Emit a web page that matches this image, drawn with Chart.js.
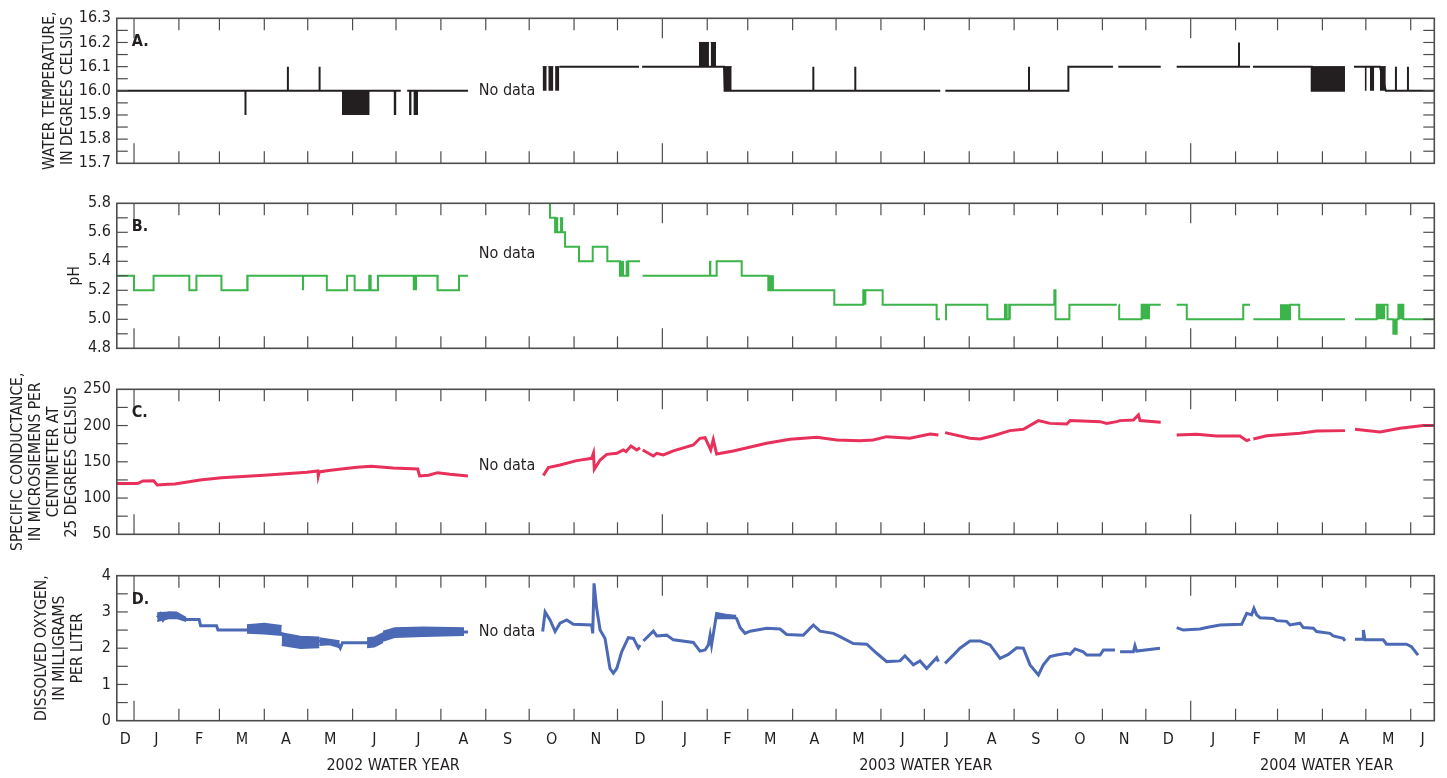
<!DOCTYPE html>
<html>
<head>
<meta charset="utf-8">
<title>Water-quality monitor, 2002-2004 water years</title>
<script src="https://cdn.jsdelivr.net/npm/chart.js@4.4.1/dist/chart.umd.min.js"></script>
<style>
  html, body { margin: 0; padding: 0; background: #fff; }
  #wrap { position: relative; width: 1447px; height: 778px; }
  #wrap canvas { position: absolute; left: 0; top: 0; }
</style>
</head>
<body>
<div id="wrap">
  <canvas id="tempChart" width="1447" height="778"></canvas>
  <canvas id="phChart" width="1447" height="778"></canvas>
  <canvas id="condChart" width="1447" height="778"></canvas>
  <canvas id="oxyChart" width="1447" height="778"></canvas>
</div>
<script>
// ===============================
// TIME AXIS (days since 1 Jan 2002)
// ===============================
const X_MIN = -11.9;   // 20 December 2001
const X_MAX = 898.3;   // 17 June 2004

const monthLabels = ['D', 'J', 'F', 'M', 'A', 'M', 'J', 'J', 'A', 'S', 'O', 'N',
                     'D', 'J', 'F', 'M', 'A', 'M', 'J', 'J', 'A', 'S', 'O', 'N',
                     'D', 'J', 'F', 'M', 'A', 'M', 'J'];
const waterYears = ['2002 WATER YEAR', '2003 WATER YEAR', '2004 WATER YEAR'];
const waterYearDays = [179, 547, 824];

// ===============================
// A. WATER TEMPERATURE (deg C)
// ===============================
const tempTicks = [15.7, 15.8, 15.9, 16.0, 16.1, 16.2, 16.3];
const tempSeries = [
  [-12, 16.0], [77, 16.0], [77, 15.9], [77, 16.0], [106.3, 16.0], [106.3, 16.1], [106.3, 16.0],
  [128.2, 16.0], [128.2, 16.1], [128.2, 16.0], [184.3, 16.0], [186, null],
  [188.7, 16.0], [230.7, 16.0], [256, null],
  [293.8, 16.1], [348.9, 16.1], [350, null], [351, 16.1], [407.6, 16.1], [408, 16.0],
  [469.3, 16.0], [469.3, 16.1], [469.3, 16.0], [498.3, 16.0], [498.3, 16.1], [498.3, 16.0],
  [557, 16.0], [558, null], [560.5, 16.0], [618.3, 16.0], [618.3, 16.1], [618.3, 16.0],
  [645.5, 16.0], [645.5, 16.1], [676.3, 16.1], [678, null], [680, 16.1], [709.3, 16.1], [715, null],
  [720.3, 16.1], [763.4, 16.1], [763.4, 16.2], [763.4, 16.1], [771, 16.1], [772, null],
  [773, 16.1], [813.6, 16.1], [813.6, 16.0], [836.6, 16.0], [839, null],
  [842.8, 16.1], [860.7, 16.1], [864.8, 16.0], [871.8, 16.0], [871.8, 16.1], [871.8, 16.0],
  [880.1, 16.0], [880.1, 16.1], [880.1, 16.0], [898.3, 16.0]
];
// stretches where the record flips between two readings: [start, end, low, high]
const tempBursts = [
  [143.6, 162.8, 15.9, 16.0], [179.3, 181.3, 15.9, 16.0], [190.0, 191.8, 15.9, 16.0], [193.0, 196.2, 15.9, 16.0],
  [282.3, 285.1, 16.0, 16.1], [286.2, 289.7, 16.0, 16.1], [290.9, 293.8, 16.0, 16.1],
  [390.3, 397.2, 16.1, 16.2], [398.4, 402.1, 16.1, 16.2], [407.6, 412.9, 16.0, 16.1],
  [813.6, 836.6, 16.0, 16.1], [850.2, 851.6, 16.0, 16.1], [853.8, 856.8, 16.0, 16.1], [860.7, 864.8, 16.0, 16.1]
];

// ===============================
// B. pH (value changes at each listed day)
// ===============================
const phTicks = [4.8, 5.0, 5.2, 5.4, 5.6, 5.8];
const phSeries = [
  [-12, 5.3], [0, 5.2], [13.5, 5.3], [38.2, 5.2], [43.1, 5.3], [60.4, 5.2], [78.4, 5.3],
  [133.2, 5.2], [147.2, 5.3], [152.4, 5.2], [162.5, 5.3], [163.5, 5.2], [168.5, 5.3],
  [209.7, 5.2], [224.5, 5.3], [230.7, 5.3], [256, null],
  [286.9, 5.8], [287.4, 5.7], [290.9, 5.6], [297.8, 5.5], [307.4, 5.4], [316.9, 5.5], [327, 5.4],
  [335.7, 5.3], [341.5, 5.4], [349.6, 5.4], [350.5, null],
  [351.4, 5.3], [402.5, 5.4], [419.8, 5.3], [438.2, 5.2], [483.8, 5.1], [503.8, 5.2], [517.2, 5.1],
  [554.5, 5.0], [556.8, 5.0], [558.5, null],
  [560.3, 5.0], [561, 5.1], [589.5, 5.0], [601.7, 5.1], [602.9, 5.0], [604.6, 5.1], [635.8, 5.2],
  [636.6, 5.0], [646.2, 5.1], [678.9, 5.1], [679.7, null],
  [680.5, 5.1], [680.6, 5.0], [696.1, 5.1], [709.3, 5.1], [715, null],
  [720.3, 5.1], [727.3, 5.0], [766.3, 5.1], [771, 5.1], [772, null],
  [773.3, 5.0], [798.6, 5.1], [805, 5.0], [836.6, 5.0], [840, null],
  [843.5, 5.0], [858.5, 5.1], [866, 5.0], [870, 4.9], [872.3, 5.0], [873.5, 5.1], [876.9, 5.0], [898.3, 5.0]
];
const phBursts = [
  [77.6, 78.9, 5.2, 5.3], [115.9, 117.6, 5.2, 5.3], [167.9, 169.2, 5.2, 5.3], [192.4, 195.6, 5.2, 5.3],
  [209.0, 210.3, 5.2, 5.3], [290.9, 293.2, 5.6, 5.7], [294.3, 296.6, 5.6, 5.7], [335.7, 338.5, 5.3, 5.4],
  [339.5, 341.5, 5.3, 5.4], [397.2, 399.0, 5.3, 5.4], [438.2, 442.1, 5.2, 5.3], [503.8, 506.1, 5.1, 5.2],
  [601.7, 602.9, 5.0, 5.1], [604.6, 605.8, 5.0, 5.1], [696.1, 701.9, 5.0, 5.1], [791.7, 798.6, 5.0, 5.1],
  [858.5, 864.3, 5.0, 5.1], [870.0, 872.3, 4.9, 5.0], [873.5, 876.9, 5.0, 5.1]
];

// ===============================
// C. SPECIFIC CONDUCTANCE (uS/cm at 25 deg C)
// ===============================
const condTicks = [50, 100, 150, 200, 250];
const condSeries = [
  [-12, 120], [2.4, 120], [6.2, 123.6], [13.5, 124], [16, 118], [23.5, 119], [28.3, 119.5],
  [45.6, 125], [60.4, 128], [89.8, 131.4], [119.5, 135.5], [127, 137.4], [127.3, 130.5], [128, 136],
  [134.4, 138], [154, 142.4], [164, 143.8], [179, 141.5], [196, 140], [197.3, 130.5], [203.5, 131.4],
  [209.7, 135], [218.3, 132.8], [230.7, 130.5], [256, null],
  [282.8, 131], [286.2, 142], [294.3, 145.6], [305.8, 151.6], [316.2, 154.8], [317.4, 161.7],
  [318, 139.7], [322, 152.5], [326.6, 160.3], [333.5, 161.7], [338, 166.3], [339.9, 164],
  [343.3, 171.8], [347.3, 166.3], [349.6, 169.5], [350.5, null],
  [351.4, 166.3], [358.8, 158], [361.1, 161.7], [365.7, 159.4], [372.6, 165], [386.4, 173.2],
  [391, 182.4], [394.5, 183.3], [396.8, 173.2], [398.4, 166.3], [400.2, 180.5], [402.5, 160.8],
  [414, 165], [437, 175.5], [453.2, 181], [471.7, 183.8], [485.5, 180], [501.5, 179.2],
  [510.7, 180], [520, 184.7], [536, 182.4], [550, 188.4], [555.7, 187], [558, null],
  [560.3, 190.2], [577.5, 182.4], [584.5, 181.5], [593.6, 186], [605.2, 193], [614.4, 194.9],
  [624.8, 206.8], [632.8, 203], [644.4, 202.2], [646.7, 206.8], [667.4, 205.4], [672, 203],
  [678.9, 205.4], [681.2, 206.8], [690.4, 207.7], [693.9, 214.6], [695, 206.8], [709.3, 204.5], [715, null],
  [720.3, 187], [734.1, 188], [747.9, 185.7], [764, 185.7], [768.7, 179.2], [771, 181], [772, null],
  [773.3, 181.5], [782.5, 186], [805.5, 189.3], [817, 192.5], [836.6, 193], [840, null],
  [843.5, 194.9], [860.8, 191.1], [874.6, 196.2], [890.7, 199.9], [898.3, 199.9]
];

// ===============================
// D. DISSOLVED OXYGEN (mg/L)
// ===============================
const oxyTicks = [0, 1, 2, 3, 4];
const oxySeries = [
  [16, 2.85], [18, 2.95], [20, 2.78], [22, 2.9], [24, 2.97], [29, 2.97], [31, 2.86], [36, 2.79],
  [45, 2.79], [46, 2.62], [57, 2.62], [58, 2.5], [65, 2.5], [78, 2.5], [90, 2.52], [102, 2.4],
  [110, 2.2], [128, 2.2], [135, 2.15], [141, 2.12], [142.5, 2.0], [144, 2.15], [161, 2.15],
  [166, 2.2], [172, 2.3], [180, 2.4], [228, 2.45], [230.7, 2.45], [256, null],
  [282.3, 2.46], [284, 3.0], [287.4, 2.78], [290.9, 2.46], [294.3, 2.69], [298.9, 2.78],
  [303.5, 2.66], [316.2, 2.64], [316.9, 2.41], [317.8, 3.79], [319.6, 3.1], [322, 2.5],
  [325.4, 2.27], [328.8, 1.44], [331.1, 1.31], [333.5, 1.44], [336.9, 1.9], [341.5, 2.29],
  [345, 2.27], [348.4, 2.01], [349.6, 2.09], [350.5, null],
  [351.9, 2.2], [358.8, 2.47], [361.1, 2.34], [368, 2.36], [372.6, 2.23], [386.4, 2.16],
  [391, 1.92], [394.5, 1.95], [396.8, 2.09], [398, 2.36], [399, 2.09], [402.5, 2.96], [414, 2.87],
  [416.3, 2.82], [418.7, 2.57], [422.1, 2.41], [425.6, 2.47], [437.1, 2.55], [446.3, 2.53],
  [450.9, 2.38], [462.4, 2.36], [469.3, 2.64], [473.9, 2.47], [483.1, 2.41], [487.7, 2.32],
  [496.9, 2.13], [506.2, 2.11], [513.1, 1.86], [520, 1.63], [529.2, 1.65], [532.6, 1.79],
  [538.4, 1.54], [543, 1.65], [547.6, 1.44], [554.5, 1.74], [555.7, 1.63], [558, null],
  [560.3, 1.58], [566, 1.81], [570.6, 2.0], [577.5, 2.2], [584.5, 2.2], [591.4, 2.09], [598.3, 1.72],
  [604, 1.83], [609.8, 2.01], [614.4, 2.0], [619, 1.54], [624.8, 1.26], [628.2, 1.54], [632.8, 1.77],
  [637.4, 1.81], [644.4, 1.86], [646.7, 1.83], [650.1, 1.98], [655.8, 1.9], [658.2, 1.81],
  [667.4, 1.81], [669.7, 1.95], [677.7, 1.95], [679.5, null],
  [681.2, 1.9], [690.4, 1.9], [691.5, 2.07], [692.7, 1.92], [708.8, 2.0], [715, null],
  [720.3, 2.57], [724.9, 2.5], [736.4, 2.53], [741, 2.57], [750.2, 2.64], [765.2, 2.66],
  [768.7, 2.96], [772.1, 2.92], [773.7, 3.1], [775.6, 2.92], [777.9, 2.84], [787.1, 2.82],
  [789.4, 2.76], [796.3, 2.74], [798.6, 2.64], [805.5, 2.69], [807.8, 2.57], [814.7, 2.55],
  [817, 2.46], [826.2, 2.41], [828.5, 2.34], [835.4, 2.27], [836.6, 2.2], [840, null],
  [843.5, 2.25], [849.3, 2.25], [849.3, 2.5], [850.4, 2.23], [863, 2.23], [865.3, 2.11],
  [879.1, 2.11], [882.5, 2.04], [887.1, 1.81]
];
// noisy stretches: each point is [day, low, high]
const oxyBands = [
  [[16, 2.74, 2.97], [24, 2.82, 2.99], [30, 2.82, 2.98], [36, 2.74, 2.84]],
  [[78, 2.42, 2.64], [90, 2.4, 2.68], [102, 2.36, 2.62]],
  [[102, 2.08, 2.42], [115, 2.0, 2.32], [128, 2.02, 2.3]],
  [[128, 2.08, 2.28], [135, 2.1, 2.24], [142, 2.02, 2.2]],
  [[161, 2.02, 2.28], [166, 2.04, 2.3], [172, 2.16, 2.42]],
  [[172, 2.2, 2.46], [180, 2.3, 2.56], [200, 2.33, 2.58], [228, 2.36, 2.56]],
  [[402.5, 2.82, 2.94], [416, 2.82, 2.9]]
];

// ===============================
// LAYOUT / STYLE
// ===============================
const FONT = '"DejaVu Sans Condensed", "Liberation Sans Narrow", "DejaVu Sans", sans-serif';
const INK = '#231f20';
const FRAME = '#4d4d4d';
const PLOT_LEFT = 116.8;
const PLOT_RIGHT = 1434.3;
const PAGE_H = 778;
const TITLE_LINE = 18;

Chart.defaults.font.family = FONT;
Chart.defaults.color = INK;

// month boundaries and calendar-year boundaries on the day axis
const T0 = Date.UTC(2002, 0, 1);
const monthStarts = [];
for (let yr = 2001; yr <= 2004; yr++) {
    for (let m = 0; m < 12; m++) {
        monthStarts.push((Date.UTC(yr, m, 1) - T0) / 864e5);
    }
}
const yearStarts = [0, 365, 730];

// label each month at the middle of its visible part
const monthLabelDays = [];
for (let i = 0; i + 1 < monthStarts.length; i++) {
    const a = Math.max(monthStarts[i], X_MIN);
    const b = Math.min(monthStarts[i + 1], X_MAX);
    if (b > a) monthLabelDays.push((a + b) / 2);
}

const toXY = pts => pts.map(([x, y]) => ({ x, y }));

function burstSets(bursts, color) {
    return bursts.map(([s, e, lo, hi]) => ({
        data: [{ x: s, y: hi }, { x: e, y: hi }],
        fill: { value: lo },
        backgroundColor: color,
        borderColor: color,
        borderWidth: 1
    }));
}

function bandSets(bands, color) {
    const sets = [];
    bands.forEach(b => {
        sets.push({
            data: b.map(([x, lo, hi]) => ({ x, y: hi })),
            fill: '+1', backgroundColor: color, borderColor: color, borderWidth: 1.5
        });
        sets.push({
            data: b.map(([x, lo]) => ({ x, y: lo })),
            fill: false, borderColor: color, borderWidth: 1.5
        });
    });
    return sets;
}

// ===============================
// FRAME, INWARD TICKS, PANEL NOTES
// ===============================
const panelFrame = {
    id: 'panelFrame',
    afterDraw(chart, args, opts) {
        const { ctx, chartArea: a } = chart;
        const x = chart.scales.x, y = chart.scales.y;
        const seg = (x1, y1, x2, y2) => {
            ctx.beginPath(); ctx.moveTo(x1, y1); ctx.lineTo(x2, y2); ctx.stroke();
        };
        ctx.save();
        ctx.strokeStyle = FRAME;
        ctx.lineWidth = 1.2;

        monthStarts.forEach(d => {
            if (d <= X_MIN || d >= X_MAX) return;
            const px = x.getPixelForValue(d);
            const len = yearStarts.includes(d) ? 20 : 12;
            seg(px, a.top, px, a.top + len);
            seg(px, a.bottom, px, a.bottom - len);
        });

        const n = Math.round((y.max - y.min) / opts.minorStep);
        for (let i = 1; i < n; i++) {
            const py = y.getPixelForValue(y.min + i * opts.minorStep);
            seg(a.left, py, a.left + 11, py);
            seg(a.right, py, a.right - 11, py);
        }

        ctx.lineWidth = 1.6;
        ctx.strokeRect(a.left, a.top, a.right - a.left, a.bottom - a.top);

        ctx.fillStyle = INK;
        ctx.textBaseline = 'middle';
        ctx.textAlign = 'left';
        ctx.font = 'bold 16px ' + FONT;
        ctx.fillText(opts.letter, a.left + 15, a.top + 24);

        ctx.textAlign = 'center';
        ctx.font = '16px ' + FONT;
        ctx.fillText('No data', x.getPixelForValue(opts.noData[0]), y.getPixelForValue(opts.noData[1]));
        ctx.restore();
    }
};
Chart.register(panelFrame);

// ===============================
// BUILD ONE PANEL
// ===============================
function makePanel(id, p) {
    // the last title line sits at p.titleX, earlier lines step outward
    const titlePad = p.titleX - TITLE_LINE / 2 - (p.title.length - 1) * TITLE_LINE;

    const scales = {
        x: {
            type: 'linear', min: X_MIN, max: X_MAX,
            display: !!p.showX,
            grid: { display: false, drawTicks: false },
            border: { display: false },
            afterBuildTicks: s => { s.ticks = monthLabelDays.map(v => ({ value: v })); },
            afterFit: s => { if (p.showX) s.height = 32; },
            ticks: {
                autoSkip: false, maxRotation: 0, padding: 10,
                font: { size: 16 }, color: INK,
                callback: (v, i) => monthLabels[i]
            }
        },
        y: {
            type: 'linear', min: p.yMin, max: p.yMax,
            grid: { display: false, drawTicks: false },
            border: { display: false },
            afterBuildTicks: s => { s.ticks = p.yTicks.map(v => ({ value: v })); },
            afterFit: s => { s.width = PLOT_LEFT; },
            ticks: {
                autoSkip: false, padding: 6,
                font: { size: 16 }, color: INK,
                callback: v => v.toFixed(p.decimals)
            },
            title: {
                display: true, text: p.title, color: INK,
                font: { size: 15.5, lineHeight: TITLE_LINE + 'px' },
                padding: { top: titlePad, bottom: 0 }
            }
        }
    };

    if (p.showX) {
        scales.x2 = {
            type: 'linear', position: 'bottom', min: X_MIN, max: X_MAX,
            grid: { display: false, drawTicks: false },
            border: { display: false },
            afterBuildTicks: s => { s.ticks = waterYearDays.map(v => ({ value: v })); },
            afterFit: s => { s.height = PAGE_H - p.bottom - 32; },
            ticks: {
                autoSkip: false, maxRotation: 0, padding: 4,
                font: { size: 16 }, color: INK,
                callback: (v, i) => waterYears[i]
            }
        };
    }

    return new Chart(document.getElementById(id), {
        type: 'line',
        data: { datasets: p.datasets },
        options: {
            responsive: false,
            animation: false,
            devicePixelRatio: 1,
            events: [],
            layout: {
                padding: {
                    left: 0,
                    right: 1447 - PLOT_RIGHT,
                    top: p.top,
                    bottom: p.showX ? 0 : PAGE_H - p.bottom
                }
            },
            elements: {
                point: { radius: 0 },
                line: { tension: 0 }
            },
            plugins: {
                legend: { display: false },
                tooltip: { enabled: false },
                panelFrame: { minorStep: p.minorStep, letter: p.letter, noData: p.noData }
            },
            scales: scales
        }
    });
}

// ===============================
// PANELS
// ===============================
const TEMP_COLOR = '#231f20';
const PH_COLOR = '#3bb44a';
const COND_COLOR = '#e8305b';
const OXY_COLOR = '#4c69b5';

makePanel('tempChart', {
    top: 18.3, bottom: 163.3, yMin: 15.7, yMax: 16.3, yTicks: tempTicks, decimals: 1,
    minorStep: 0.05, letter: 'A.', noData: [257.7, 16.0],
    title: ['WATER TEMPERATURE,', 'IN DEGREES CELSIUS'], titleX: 68,
    datasets: [
        { data: toXY(tempSeries), borderColor: TEMP_COLOR, borderWidth: 2 },
        ...burstSets(tempBursts, TEMP_COLOR)
    ]
});

makePanel('phChart', {
    top: 203.3, bottom: 348.3, yMin: 4.8, yMax: 5.8, yTicks: phTicks, decimals: 1,
    minorStep: 0.1, letter: 'B.', noData: [257.7, 5.45],
    title: ['pH'], titleX: 75,
    datasets: [
        { data: toXY(phSeries), borderColor: PH_COLOR, borderWidth: 2, stepped: true },
        ...burstSets(phBursts, PH_COLOR)
    ]
});

makePanel('condChart', {
    top: 389.3, bottom: 534.3, yMin: 50, yMax: 250, yTicks: condTicks, decimals: 0,
    minorStep: 25, letter: 'C.', noData: [257.7, 144],
    title: ['SPECIFIC CONDUCTANCE,', 'IN MICROSIEMENS PER', 'CENTIMETER AT', '25 DEGREES CELSIUS'],
    titleX: 72,
    datasets: [
        { data: toXY(condSeries), borderColor: COND_COLOR, borderWidth: 3 }
    ]
});

makePanel('oxyChart', {
    top: 575.7, bottom: 720.7, yMin: 0, yMax: 4, yTicks: oxyTicks, decimals: 0,
    minorStep: 0.5, letter: 'D.', noData: [257.7, 2.45], showX: true,
    title: ['DISSOLVED OXYGEN,', 'IN MILLIGRAMS', 'PER LITER'], titleX: 78,
    datasets: [
        { data: toXY(oxySeries), borderColor: OXY_COLOR, borderWidth: 3 },
        ...bandSets(oxyBands, OXY_COLOR)
    ]
});
</script>
</body>
</html>
